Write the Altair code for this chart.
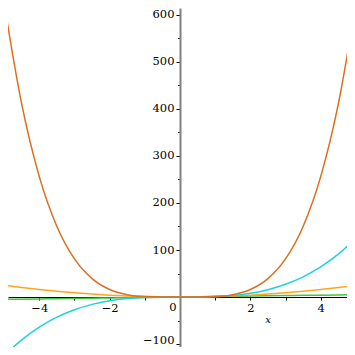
import altair as alt
import pandas as pd

xs = [-5, -4.5, -4, -3.5, -3, -2.5, -2, -1.5, -1, -0.5, 0, 0.5, 1, 1.5, 2, 2.5, 3, 3.5, 4, 4.5, 5]
y_lin = [-5, -4.5, -4, -3.5, -3, -2.5, -2, -1.5, -1, -0.5, 0, 0.5, 1, 1.5, 2, 2.5, 3, 3.5, 4, 4.5, 5]
y_sq = [25, 20.25, 16, 12.25, 9, 6.25, 4, 2.25, 1, 0.25, 0, 0.25, 1, 2.25, 4, 6.25, 9, 12.25, 16, 20.25, 25]
y_cube = [-125, -91.125, -64, -42.875, -27, -15.625, -8, -3.375, -1, -0.125, 0, 0.125, 1, 3.375, 8, 15.625, 27, 42.875, 64, 91.125, 125]
y_quart = [625, 410.0625, 256, 150.0625, 81, 39.0625, 16, 5.0625, 1, 0.0625, 0, 0.0625, 1, 5.0625, 16, 39.0625, 81, 150.0625, 256, 410.0625, 625]

series = ["x", "x^2", "x^3", "x^4"]
colors = ["#3CC83C", "#FFA41C", "#1ED2DC", "#DC6E1E"]
y_ticks = [-100, -50, 0, 50, 100, 150, 200, 250, 300, 350, 400, 450, 500, 550, 600]
x_ticks = [-4, -3, -2, -1, 0, 1, 2, 3, 4]

rows = []
for name, ys in zip(series, [y_lin, y_sq, y_cube, y_quart]):
    for x, y in zip(xs, ys):
        rows.append({"x": x, "y": y, "s": name})
df = pd.DataFrame(rows)

W = 339
H = 339
FONT = "DejaVu Serif"

# visible window of the reference view (page px 8..347)
X_DOM = [-4.89, 4.748]
Y_DOM = [-106.3, 614.7]

xscale = alt.Scale(domain=X_DOM, nice=False, zero=False)
yscale = alt.Scale(domain=Y_DOM, nice=False, zero=False)

x_off = -(H * (0 - Y_DOM[0]) / (Y_DOM[1] - Y_DOM[0]))
y_off = -(W * (0 - X_DOM[0]) / (X_DOM[1] - X_DOM[0]))

lines = alt.Chart(df).mark_line(strokeWidth=1.5, interpolate="monotone", clip=True).encode(
    x=alt.X("x:Q", scale=xscale, axis=alt.Axis(
        values=x_ticks, orient="bottom", offset=x_off, title=None,
        labelExpr="(datum.value % 2 === 0 && datum.value !== 0) ? datum.label : ''",
        grid=False, domainColor="black", domainWidth=1, tickColor="black",
        tickSize=3, labelPadding=2, labelFont=FONT, labelFontSize=11.5,
        labelColor="black", labelFlush=False, labelOverlap=False)),
    y=alt.Y("y:Q", scale=yscale, axis=alt.Axis(
        values=y_ticks, orient="left", offset=y_off, title=None,
        labelExpr="(datum.value % 100 === 0 && datum.value !== 0) ? datum.label : ''",
        grid=False, domainColor="#808080", domainWidth=2, tickColor="black",
        tickSize={"condition": {"test": "datum.value % 100 === 0", "value": 4}, "value": 2.5},
        labelOffset={"condition": {"test": "datum.value === -100", "value": -4}, "value": 0},
        labelPadding=2, labelFont=FONT, labelFontSize=11.5,
        labelColor="black", labelFlush=False, labelOverlap=False)),
    color=alt.Color("s:N", scale=alt.Scale(domain=series, range=colors), legend=None),
    detail="s:N",
)

zero_lbl = alt.Chart(pd.DataFrame({"t": ["0"]})).mark_text(
    font=FONT, fontSize=11.5, color="black", align="center", baseline="middle"
).encode(x=alt.value(165), y=alt.value(300), text="t:N")

x_title = alt.Chart(pd.DataFrame({"t": ["x"]})).mark_text(
    font=FONT, fontSize=10, fontStyle="italic", color="black", align="center", baseline="middle"
).encode(x=alt.value(260), y=alt.value(312), text="t:N")

chart = alt.layer(lines, zero_lbl, x_title).properties(
    width=W, height=H,
    autosize=alt.AutoSizeParams(type="none"),
    padding=0,
).configure_view(stroke=None)

chart.save("out.html", embed_options={"renderer": "svg", "actions": False})
